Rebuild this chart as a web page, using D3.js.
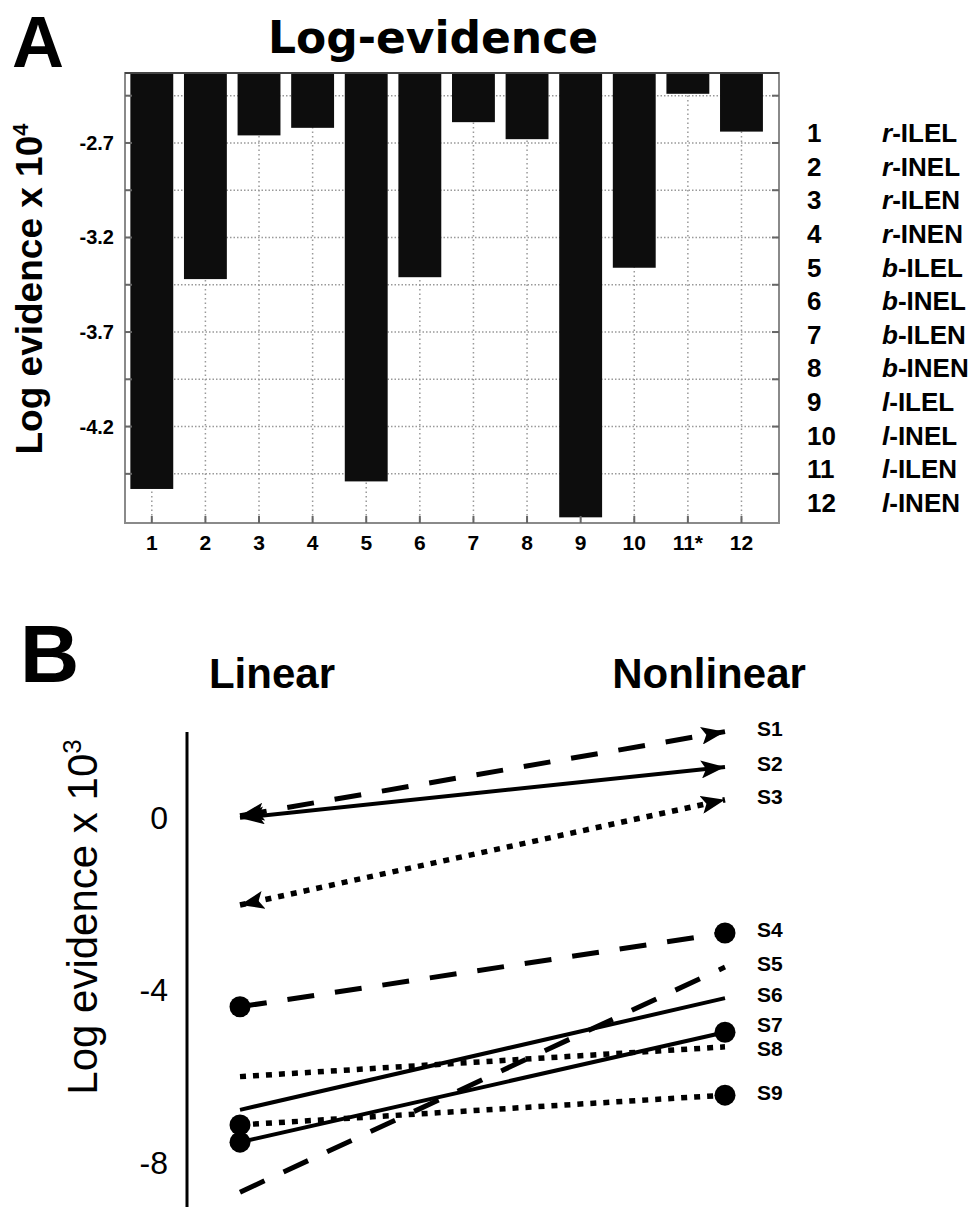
<!DOCTYPE html>
<html>
<head>
<meta charset="utf-8">
<script src="https://cdn.jsdelivr.net/npm/d3@7"></script>
<style>
  body { margin: 0; background: #fff; }
  svg { display: block; font-family: Arial, "Liberation Sans", sans-serif; }
</style>
</head>
<body>
<div id="chart"></div>
<script>
// ---- panel A data ----
const barCategories = ["1", "2", "3", "4", "5", "6", "7", "8", "9", "10", "11*", "12"];
const barValues = [-4.53, -3.42, -2.66, -2.62, -4.49, -3.41, -2.59, -2.68, -4.68, -3.36, -2.44, -2.64];
const yTicksA = [-2.7, -3.2, -3.7, -4.2];
const gridA = [-2.45, -2.7, -2.95, -3.2, -3.45, -3.7, -3.95, -4.2, -4.45];
const modelNames = ["r-ILEL", "r-INEL", "r-ILEN", "r-INEN", "b-ILEL", "b-INEL", "b-ILEN", "b-INEN",
                    "l-ILEL", "l-INEL", "l-ILEN", "l-INEN"];

// ---- panel B data ----
const conditions = ["Linear", "Nonlinear"];
const subjects = ["S1", "S2", "S3", "S4", "S5", "S6", "S7", "S8", "S9"];
const linearVals = [0.05, 0.0, -2.02, -4.38, -8.68, -6.77, -7.52, -6.0, -7.12];
const nonlinearVals = [2.0, 1.18, 0.42, -2.67, -3.46, -4.18, -4.97, -5.31, -6.43];
const lineStyles = ["dashed", "solid", "dotted", "dashed", "dashed", "solid", "solid", "dotted", "dotted"];
const endMarks = ["arrow", "arrow", "arrow", "dot", "none", "none", "dot", "none", "dot"];
const yTicksB = [0, -4, -8];

const width = 979, height = 1207;
const svg = d3.select("#chart").append("svg").attr("width", width).attr("height", height);

// ================= panel A =================
const plotA = { left: 125, right: 779, top: 73, bottom: 523 };
const xA = d3.scaleLinear().domain([0.5, 12.7]).range([plotA.left, plotA.right]);
const yA = d3.scaleLinear().domain([-4.71, -2.33]).range([plotA.bottom, plotA.top]);
const barW = xA(0.8) - xA(0);

const gA = svg.append("g");

// grid
gA.selectAll(".hgrid").data(gridA).join("line")
  .attr("x1", plotA.left).attr("x2", plotA.right)
  .attr("y1", d => yA(d)).attr("y2", d => yA(d))
  .attr("stroke", "#999").attr("stroke-width", 1.5).attr("stroke-dasharray", "1.5,2");
gA.selectAll(".vgrid").data(barCategories).join("line")
  .attr("x1", (d, i) => xA(i + 1)).attr("x2", (d, i) => xA(i + 1))
  .attr("y1", plotA.top).attr("y2", plotA.bottom)
  .attr("stroke", "#999").attr("stroke-width", 1.5).attr("stroke-dasharray", "1.5,3");

// bars hang from the top of the axis
gA.selectAll(".bar").data(barValues).join("rect")
  .attr("x", (d, i) => xA(i + 1) - barW / 2)
  .attr("y", plotA.top)
  .attr("width", barW)
  .attr("height", d => yA(d) - plotA.top)
  .attr("fill", "#0d0d0d");

// frame
gA.append("rect")
  .attr("x", plotA.left).attr("y", plotA.top)
  .attr("width", plotA.right - plotA.left).attr("height", plotA.bottom - plotA.top)
  .attr("fill", "none").attr("stroke", "#8a8a8a").attr("stroke-width", 2);
gA.append("line")
  .attr("x1", plotA.left).attr("x2", plotA.right).attr("y1", plotA.top).attr("y2", plotA.top)
  .attr("stroke", "#444").attr("stroke-width", 2);

// inward ticks
gA.selectAll(".ltick").data(gridA).join("line")
  .attr("x1", plotA.left).attr("x2", plotA.left + 7)
  .attr("y1", d => yA(d)).attr("y2", d => yA(d))
  .attr("stroke", "#666").attr("stroke-width", 2);
gA.selectAll(".rtick").data(gridA).join("line")
  .attr("x1", plotA.right - 7).attr("x2", plotA.right)
  .attr("y1", d => yA(d)).attr("y2", d => yA(d))
  .attr("stroke", "#666").attr("stroke-width", 2);
gA.selectAll(".btick").data(barCategories).join("line")
  .attr("x1", (d, i) => xA(i + 1)).attr("x2", (d, i) => xA(i + 1))
  .attr("y1", plotA.bottom).attr("y2", plotA.bottom - 7)
  .attr("stroke", "#666").attr("stroke-width", 2);

// tick labels
gA.selectAll(".ylab").data(yTicksA).join("text")
  .attr("x", 114).attr("y", d => yA(d)).attr("dy", "0.35em")
  .attr("text-anchor", "end").attr("font-size", 20).attr("font-weight", "bold")
  .text(d => d.toFixed(1));
gA.selectAll(".xlab").data(barCategories).join("text")
  .attr("x", (d, i) => xA(i + 1)).attr("y", 550)
  .attr("text-anchor", "middle").attr("font-size", 21).attr("font-weight", "bold")
  .attr("font-family", "'Liberation Sans Narrow', Arial, sans-serif")
  .text(d => d);

// titles
svg.append("text").attr("x", 12).attr("y", 67)
  .attr("font-size", 72).attr("font-weight", "bold").text("A");
svg.append("text").attr("x", 433).attr("y", 53).attr("text-anchor", "middle")
  .attr("font-family", "'DejaVu Sans', Verdana, sans-serif")
  .attr("font-size", 44).attr("font-weight", "bold").text("Log-evidence");
const yTitleA = svg.append("text")
  .attr("transform", "translate(42,289) rotate(-90)")
  .attr("text-anchor", "middle").attr("font-size", 37).attr("font-weight", "bold");
yTitleA.append("tspan").text("Log evidence x 10");
yTitleA.append("tspan").attr("font-size", 22).attr("dy", -14).text("4");

// legend
const legend = svg.append("g").attr("font-size", 26).attr("font-weight", "bold");
const rows = legend.selectAll("g").data(modelNames).join("g")
  .attr("transform", (d, i) => `translate(0,${133 + i * 33.6})`);
rows.append("text").attr("x", 807).attr("dy", "0.35em").text((d, i) => i + 1);
const lbl = rows.append("text").attr("x", 882).attr("dy", "0.35em");
lbl.append("tspan").attr("font-style", "italic").text(d => d.split("-")[0]);
lbl.append("tspan").text(d => "-" + d.split("-")[1]);

// ================= panel B =================
const xB = d3.scalePoint().domain(conditions).range([240, 725]);
const yB = d3.scaleLinear().domain([2.2, -9]).range([723, 1206]);

const defs = svg.append("defs");
defs.append("marker")
  .attr("id", "arrow").attr("markerUnits", "userSpaceOnUse")
  .attr("viewBox", "0 0 24 18").attr("refX", 24).attr("refY", 9)
  .attr("markerWidth", 24).attr("markerHeight", 18)
  .attr("orient", "auto-start-reverse")
  .append("path").attr("d", "M0,0 L24,9 L0,18 L5,9 Z").attr("fill", "#000");

const dashes = { solid: null, dashed: "27,21", dotted: "6,7" };
const widths = { solid: 4, dashed: 5, dotted: 5.5 };

const series = subjects.map((s, i) => ({
  name: s, values: [linearVals[i], nonlinearVals[i]], style: lineStyles[i], mark: endMarks[i]
}));

const gB = svg.append("g");
gB.selectAll(".sline").data(series).join("line")
  .attr("x1", xB("Linear")).attr("y1", d => yB(d.values[0]))
  .attr("x2", xB("Nonlinear")).attr("y2", d => yB(d.values[1]))
  .attr("stroke", "#000")
  .attr("stroke-width", d => widths[d.style])
  .attr("stroke-dasharray", d => dashes[d.style])
  .attr("marker-start", d => d.mark === "arrow" ? "url(#arrow)" : null)
  .attr("marker-end", d => d.mark === "arrow" ? "url(#arrow)" : null);

const dotted = series.filter(d => d.mark === "dot");
gB.selectAll(".dotL").data(dotted).join("circle")
  .attr("cx", xB("Linear")).attr("cy", d => yB(d.values[0])).attr("r", 10.5);
gB.selectAll(".dotR").data(dotted).join("circle")
  .attr("cx", xB("Nonlinear")).attr("cy", d => yB(d.values[1])).attr("r", 10.5);

// labels next to right ends, pushed apart (both ways) so they don't collide
const minGap = 24;
const labelY = series.map(d => yB(d.values[1]) - 3);
for (let i = 1; i < labelY.length; i++) {
  const gap = labelY[i] - labelY[i - 1];
  if (gap < minGap) {
    const shift = (minGap - gap) / 2;
    labelY[i - 1] -= shift;
    labelY[i] += shift;
  }
}
gB.selectAll(".slab").data(series).join("text")
  .attr("x", 757).attr("y", (d, i) => labelY[i]).attr("dy", "0.35em")
  .attr("font-size", 21).attr("font-weight", "bold")
  .text(d => d.name);

// axis
const axisB = gB.append("g").attr("transform", "translate(187,0)")
  .call(d3.axisLeft(yB).tickValues(yTicksB).tickSize(0).tickPadding(19).tickFormat(d3.format("d")));
axisB.select(".domain").remove();
axisB.selectAll("text").attr("font-size", 32).attr("font-family", "Arial, 'Liberation Sans', sans-serif")
  .text(d => String(d));
gB.append("line").attr("x1", 187).attr("x2", 187).attr("y1", 732).attr("y2", height)
  .attr("stroke", "#000").attr("stroke-width", 3);

svg.selectAll(".cond").data(conditions).join("text")
  .attr("x", (d, i) => i === 0 ? 272 : 709).attr("y", 688)
  .attr("text-anchor", "middle").attr("font-size", 42).attr("font-weight", "bold")
  .text(d => d);
svg.append("text").attr("x", 20).attr("y", 682)
  .attr("font-size", 82).attr("font-weight", "bold").text("B");
const yTitleB = svg.append("text")
  .attr("transform", "translate(97,917) rotate(-90)")
  .attr("text-anchor", "middle").attr("font-size", 42);
yTitleB.append("tspan").text("Log evidence x 10");
yTitleB.append("tspan").attr("font-size", 26).attr("dy", -16).text("3");
</script>
</body>
</html>
